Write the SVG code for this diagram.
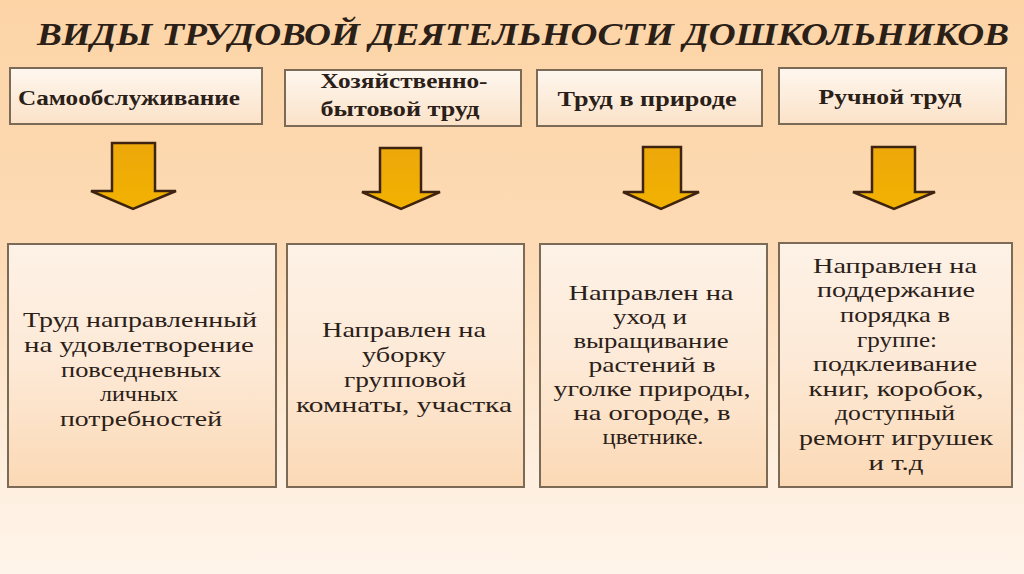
<svg xmlns="http://www.w3.org/2000/svg" width="1024" height="574" viewBox="0 0 1024 574">
<defs>
<linearGradient id="bg" x1="0" y1="0" x2="0" y2="1">
<stop offset="0" stop-color="#fcd4a6"/>
<stop offset="0.45" stop-color="#fddbb6"/>
<stop offset="0.8" stop-color="#feeedd"/>
<stop offset="1" stop-color="#fff4ea"/>
</linearGradient>
<linearGradient id="topbox" x1="0" y1="0" x2="0" y2="1">
<stop offset="0" stop-color="#fef7ef"/>
<stop offset="1" stop-color="#fbe2c8"/>
</linearGradient>
<linearGradient id="botbox" x1="0" y1="0" x2="0" y2="1">
<stop offset="0" stop-color="#fdf2e7"/>
<stop offset="0.5" stop-color="#fde9d6"/>
<stop offset="1" stop-color="#fbd9b5"/>
</linearGradient>
<linearGradient id="arr" x1="0" y1="0" x2="0" y2="1">
<stop offset="0" stop-color="#eda80a"/>
<stop offset="1" stop-color="#f2b200"/>
</linearGradient>
<style>
.title{font-family:"Liberation Serif","Times New Roman",serif;font-weight:bold;font-style:italic;font-size:31px;fill:#2a2018}
.tb{fill:url(#topbox);stroke:#7b6a56;stroke-width:2}
.bb{fill:url(#botbox);stroke:#7b6a56;stroke-width:2}
.tt{font-family:"Liberation Serif","Times New Roman",serif;font-weight:bold;font-size:20px;fill:#2a2018;text-anchor:middle}
.bt{font-family:"Liberation Serif","Times New Roman",serif;font-size:21px;fill:#2a2018;text-anchor:middle}
.ar{fill:url(#arr);stroke:#3e2410;stroke-width:2.5;stroke-linejoin:miter}
</style>
</defs>
<rect x="0" y="0" width="1024" height="574" fill="url(#bg)"/>
<text class="title" x="37" y="45" textLength="972" lengthAdjust="spacingAndGlyphs">ВИДЫ ТРУДОВОЙ ДЕЯТЕЛЬНОСТИ ДОШКОЛЬНИКОВ</text>

<g id="type1">
<rect class="tb" x="10" y="68" width="252" height="56"/>
<text class="tt" x="129" y="105" textLength="222" lengthAdjust="spacingAndGlyphs">Самообслуживание</text>
</g>
<g id="type2">
<rect class="tb" x="285" y="70" width="236" height="56"/>
<text class="tt" x="404" y="88" textLength="167" lengthAdjust="spacingAndGlyphs">Хозяйственно-</text>
<text class="tt" x="400" y="116" textLength="159" lengthAdjust="spacingAndGlyphs">бытовой труд</text>
</g>
<g id="type3">
<rect class="tb" x="537" y="70" width="225" height="56"/>
<text class="tt" x="647" y="106" textLength="179" lengthAdjust="spacingAndGlyphs">Труд в природе</text>
</g>
<g id="type4">
<rect class="tb" x="779" y="68" width="227" height="56"/>
<text class="tt" x="890" y="104" textLength="143" lengthAdjust="spacingAndGlyphs">Ручной труд</text>
</g>

<g id="connectors">
<path class="ar" d="M112,143 H155 V191 H176 L133,209 L91,191 H112 Z"/>
<path class="ar" d="M380,148 H421 V192 H440 L401,209 L362,192 H380 Z"/>
<path class="ar" d="M643,147 H681 V192 H699 L661,209 L623,192 H643 Z"/>
<path class="ar" d="M872,147 H915 V192 H935 L894,209 L853,192 H872 Z"/>
</g>

<g id="desc1">
<rect class="bb" x="8" y="244" width="268" height="243"/>
<text class="bt" x="140" y="327" textLength="234" lengthAdjust="spacingAndGlyphs">Труд направленный</text>
<text class="bt" x="139" y="352" textLength="230" lengthAdjust="spacingAndGlyphs">на удовлетворение</text>
<text class="bt" x="141" y="377" textLength="160" lengthAdjust="spacingAndGlyphs">повседневных</text>
<text class="bt" x="139" y="401" textLength="78" lengthAdjust="spacingAndGlyphs">личных</text>
<text class="bt" x="141" y="426" textLength="162" lengthAdjust="spacingAndGlyphs">потребностей</text>
</g>
<g id="desc2">
<rect class="bb" x="287" y="244" width="237" height="243"/>
<text class="bt" x="404" y="337" textLength="164" lengthAdjust="spacingAndGlyphs">Направлен на</text>
<text class="bt" x="404" y="362" textLength="84" lengthAdjust="spacingAndGlyphs">уборку</text>
<text class="bt" x="405" y="387" textLength="122" lengthAdjust="spacingAndGlyphs">групповой</text>
<text class="bt" x="404" y="412" textLength="216" lengthAdjust="spacingAndGlyphs">комнаты, участка</text>
</g>
<g id="desc3">
<rect class="bb" x="540" y="244" width="227" height="243"/>
<text class="bt" x="651" y="300" textLength="165" lengthAdjust="spacingAndGlyphs">Направлен на</text>
<text class="bt" x="650" y="324" textLength="74" lengthAdjust="spacingAndGlyphs">уход и</text>
<text class="bt" x="651" y="348" textLength="155" lengthAdjust="spacingAndGlyphs">выращивание</text>
<text class="bt" x="652" y="372" textLength="127" lengthAdjust="spacingAndGlyphs">растений в</text>
<text class="bt" x="652" y="396" textLength="197" lengthAdjust="spacingAndGlyphs">уголке природы,</text>
<text class="bt" x="652" y="420" textLength="157" lengthAdjust="spacingAndGlyphs">на огороде, в</text>
<text class="bt" x="653" y="444" textLength="101" lengthAdjust="spacingAndGlyphs">цветнике.</text>
</g>
<g id="desc4">
<rect class="bb" x="779" y="243" width="233" height="244"/>
<text class="bt" x="895" y="273" textLength="164" lengthAdjust="spacingAndGlyphs">Направлен на</text>
<text class="bt" x="896" y="297" textLength="158" lengthAdjust="spacingAndGlyphs">поддержание</text>
<text class="bt" x="895" y="322" textLength="110" lengthAdjust="spacingAndGlyphs">порядка в</text>
<text class="bt" x="897" y="347" textLength="80" lengthAdjust="spacingAndGlyphs">группе:</text>
<text class="bt" x="895" y="371" textLength="164" lengthAdjust="spacingAndGlyphs">подклеивание</text>
<text class="bt" x="896" y="396" textLength="175" lengthAdjust="spacingAndGlyphs">книг, коробок,</text>
<text class="bt" x="895" y="420" textLength="120" lengthAdjust="spacingAndGlyphs">доступный</text>
<text class="bt" x="896" y="445" textLength="194" lengthAdjust="spacingAndGlyphs">ремонт игрушек</text>
<text class="bt" x="896" y="470" textLength="55" lengthAdjust="spacingAndGlyphs">и т.д</text>
</g>
</svg>
